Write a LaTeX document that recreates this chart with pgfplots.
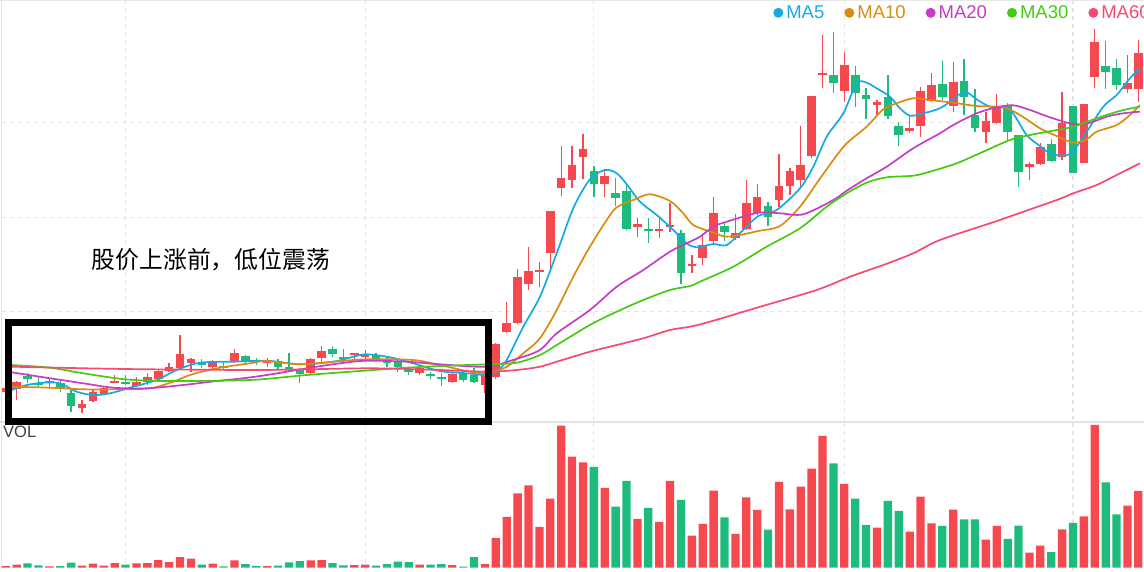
\documentclass[border=0pt]{standalone}
\usepackage{pgfplots}
\usepackage{pgfplotstable}
\pgfplotsset{compat=1.18}
\usepackage{fontspec}
\setmainfont{Liberation Sans}
\newfontfamily\cjk{Noto Sans CJK SC}
\definecolor{upred}{HTML}{F5484F}
\definecolor{dngreen}{HTML}{1DBC7C}
\definecolor{ma5}{HTML}{16A9E6}
\definecolor{ma10}{HTML}{DC8A10}
\definecolor{ma20}{HTML}{C63CC8}
\definecolor{ma30}{HTML}{44CC12}
\definecolor{ma60}{HTML}{F54A72}
\definecolor{gridc}{HTML}{E4E4E4}

% candle values are in chart rows (smaller = higher price); v = volume
\pgfplotstableread{
i o h l c v
0 392 386 395 388 1.5
1 389.3 381 400 381.7 2.8
4 382.7 378 386.7 381 1.2
7 407.7 400 413.3 404 1.8
8 401 389.3 402.3 391.7 3.8
9 394 386 395 388.3 1.8
10 382.7 375 383.3 381 4.5
12 385.7 377.3 386.7 381.7 4.2
13 382.3 373.3 385 377.3 4.5
14 379 369.3 380 370.7 7.5
15 370.7 363.3 371.7 366.7 5.5
16 368.3 335 370 354.3 10.5
17 363.3 358.3 371.7 359 8.8
19 367.3 360 370 361.7 3.8
21 361.7 349.3 363.3 353.3 7.2
24 363 358.3 366.7 361.3 1.5
28 372.7 357.7 375 359.3 7.2
29 358.3 345.7 361.7 351 7.5
32 355 353 359.3 353.3 2.5
33 356.3 350 359 354.7 2.8
38 372.7 366.7 375 367.7 2.8
41 381.7 370 383.3 374 2.5
44 385 370 393 373 3.5
45 376.7 343 379 344 29.5
46 331.7 301.7 333.3 322.7 50.5
47 322.7 269.3 324 276.7 74.2
48 284 246.7 290 271 82.2
49 271.7 261.7 286.7 270 40.5
50 253.3 211 271.7 211 68.8
51 187.7 146 196 178.3 141.8
52 180 146 187.7 165 110.8
53 156.7 134.3 179.3 149 105.2
55 184.3 169.3 196.7 176 79.5
58 227.3 217.7 236.7 224.3 48.5
60 230.7 217.7 238.3 229 45.5
61 226.7 202.7 231.7 225.2 86.5
63 265.7 255 273.3 264.2 31.8
64 258 235 264.5 245 43.5
65 241 196.7 242.7 212.7 76.8
67 238.3 214 240 233.3 33.5
68 229 180 230 202.7 70.2
69 212.7 184 215 196.7 57.5
71 200 154 206.7 186 85.5
72 186 167.7 195 171 58.2
73 180 125.7 186.7 165 80.8
74 156 96 158.3 96 98.8
75 74.3 35 88.3 72.7 131.5
77 90.7 51.7 101.7 65 83.5
80 105.3 100 115 101.7 39.8
83 130.7 116 132.7 128.3 35.8
84 125.7 86.7 136.7 91 70.8
85 100.7 73 101.7 85 44.2
87 106 61.7 111.7 82.3 57.8
90 131.7 111.7 143.3 120.7 27.8
91 123.3 94 124 108.3 41.5
94 166.7 161.7 180 164.3 14.8
95 164 143.3 165 146.7 21.8
97 157.3 91.7 160 123.3 38.2
99 162.7 104 163 104 51.2
100 76.7 29.3 88.3 41.7 142.5
103 89.3 55 92.7 83.3 61.8
104 89.3 40 101.7 52.7 76.5
}\upT

\pgfplotstableread{
i o h l c v
2 376 373.3 383.3 378.7 4.2
3 383 377 386.7 385 2.2
5 383.3 381 391.7 388.3 1.5
6 392.7 390 411.7 406 4.8
11 382 375 385 383.5 2.8
18 363.2 359.3 368.3 364.7 2.8
20 365.7 361.7 369.3 367.3 1.2
22 356 355 363.3 361.7 3.5
23 360 357.7 365 361.7 1.5
25 361 359.3 369.3 367.3 1.8
26 366.7 353.3 371.7 369.3 5.2
27 370 368.3 382.7 374.3 6.5
30 349.3 346 356.7 354.3 4.5
31 356.7 349 361.7 359 2.2
34 355 353 361 359 1.8
35 360 357.3 366.7 362.7 3.5
36 361.7 359.3 371.7 367.3 5.8
37 369.3 366.7 375 371.7 5.5
39 374 371.7 379.3 376 2.8
40 377.3 373.3 386 379 3.5
42 373.3 371.7 381.7 380 0.8
43 375 367.7 383.3 381.7 10.5
54 171 166 196.7 184.3 100.5
56 192.7 178.3 206 198.3 60.8
57 191 184.3 230 229.3 86.5
59 229 217.7 243.3 230.7 59.5
62 233.3 230 284 273.3 67.5
66 226 221.7 240.7 232 50.2
70 206 201.7 226 216.7 37.8
76 75 31.7 92.7 82.7 104.2
78 75 66 107.3 93.3 68.8
79 95 88.3 119 99 42.5
81 96.7 75 119 115.7 66.5
82 126 121.7 146 135 56.5
86 84 60.7 100 97.3 41.5
88 80.7 59.3 115 96.7 48.2
89 115 89.3 131.7 128.3 48.2
92 106 103.3 140 131.7 28.5
93 135 135 187.3 171.7 41.8
96 144 139.3 161.7 160.7 15.5
98 106 106 173.3 173.3 44.5
101 66 40.7 89.3 71.7 85.2
102 68.3 59.3 90 85 53.2
}\dnT

\begin{document}
\begin{tikzpicture}
\path[use as bounding box] (0pt,0pt) rectangle (1144pt,571pt);
\clip (0pt,0pt) rectangle (1144pt,571pt);

% ---------- price panel ----------
\begin{axis}[
  at={(2pt,149pt)}, anchor=south west,
  scale only axis, width=1142pt, height=422pt,
  xmin=-0.349, xmax=104.52, ymin=0, ymax=422, y dir=reverse,
  axis line style={draw=none}, tick style={draw=none},
  xtick={11,33,54,77,98}, ytick={122.7,217.3,311.7},
  xticklabels={}, yticklabels={},
  grid=major,
  major grid style={gridc, line width=1.2pt, dash pattern=on 4pt off 4pt},
  legend columns=-1,
  legend image code/.code={\fill[draw=none] (5pt,0pt) circle (5pt);},
  legend style={at={(axis cs:70.48,12.8)}, anchor=west, draw=none, fill=none,
    inner sep=0pt, outer sep=0pt,
    font=\fontsize{18.5}{22}\selectfont,
    nodes={inner sep=3pt},
    /tikz/every even column/.append style={column sep=17pt}},
]
% wicks
\addplot[forget plot, draw=none, mark=none,
  error bars/.cd, y dir=both, y explicit, error mark=none,
  error bar style={draw=upred, line width=1.3pt}]
  table[x=i, y expr={(\thisrow{h}+\thisrow{l})/2}, y error expr={(\thisrow{l}-\thisrow{h})/2}] {\upT};
\addplot[forget plot, draw=none, mark=none,
  error bars/.cd, y dir=both, y explicit, error mark=none,
  error bar style={draw=dngreen, line width=1.3pt}]
  table[x=i, y expr={(\thisrow{h}+\thisrow{l})/2}, y error expr={(\thisrow{l}-\thisrow{h})/2}] {\dnT};
% bodies
\addplot[forget plot, draw=none, mark=none,
  error bars/.cd, y dir=both, y explicit, error mark=none,
  error bar style={draw=upred, line width=8.6pt}]
  table[x=i, y expr={(\thisrow{o}+\thisrow{c})/2}, y error expr={abs(\thisrow{o}-\thisrow{c})/2}] {\upT};
\addplot[forget plot, draw=none, mark=none,
  error bars/.cd, y dir=both, y explicit, error mark=none,
  error bar style={draw=dngreen, line width=8.6pt}]
  table[x=i, y expr={(\thisrow{o}+\thisrow{c})/2}, y error expr={abs(\thisrow{o}-\thisrow{c})/2}] {\dnT};

% moving averages
\addplot[ma5, line width=1.7pt, smooth] coordinates {
(0.54,390) (1.92,385) (3.44,382.7) (4.98,383.3) (6.51,391.7) (8.04,395) (9.57,393.3) (11.71,386.7) (13.86,380) (15.69,370) (17.83,362.7) (20.89,361.7) (23.96,360.7) (27.02,364.3) (30.07,361.7) (31.91,356.7) (33.14,354.3) (35.28,357.3) (37.42,363.3) (39.87,371) (42.32,373.3) (44.46,375) (45.38,368.3) (46.0,360) (47.52,326.7) (49.05,296.7) (50.59,253.3) (52.11,208.3) (53.64,179.3) (55.03,170) (56.1,173.3) (57.02,184.3) (58.24,201.7) (59.77,215) (61.3,230) (62.52,243.3) (63.44,247.3) (64.97,244) (66.2,245) (67.72,230) (69.1,216) (70.79,210) (72.93,188.3) (74.15,166.7) (75.38,136.7) (76.91,113.3) (78.13,83.3) (79.05,82.7) (79.97,88.3) (81.19,96.7) (82.11,108.3) (83.03,115.7) (84.25,113.3) (85.78,108.3) (87.01,99.3) (88.08,91.7) (89.15,99.3) (90.37,106.7) (92.21,110) (93.74,135) (94.97,146) (96.04,154) (97.72,154) (99.26,131.7) (100.78,106.7) (102.01,95) (103.23,78.3) (104.15,68.3)
};
\addlegendentry{\textcolor{ma5}{MA5}}
\addplot[ma10, line width=1.7pt, smooth] coordinates {
(0.54,386.7) (4.06,387.7) (7.12,389.3) (10.18,389.3) (13.24,388.3) (15.38,381.7) (16.91,375) (19.37,368.3) (22.42,363.3) (23.96,361) (27.02,364.3) (30.07,361.7) (33.14,359.3) (37.42,360) (39.87,365) (42.32,371) (44.15,373.3) (46.0,366.7) (47.52,353.3) (49.05,338.3) (50.59,310) (52.11,276.7) (53.64,246.7) (55.18,220) (56.1,207.3) (57.62,200) (59.15,194.3) (60.99,201) (62.21,213.3) (63.13,225) (64.97,232.7) (66.2,236.7) (67.72,234.3) (69.1,231) (71.09,226) (72.93,206.7) (74.46,183.3) (75.99,160) (77.22,143.3) (79.05,126.7) (80.58,109.3) (81.81,103.3) (83.33,98.3) (84.86,100) (87.01,102.7) (89.15,106) (91.6,107.3) (93.13,115) (94.97,128.3) (96.5,136) (98.03,142.7) (99.26,139.3) (100.17,131.7) (102.01,125) (103.23,115) (104.15,105)
};
\addlegendentry{\textcolor{ma10}{MA10}}
\addplot[ma20, line width=1.7pt, smooth] coordinates {
(0.54,372.3) (4.06,378.3) (7.12,383.3) (9.87,387.7) (12.94,388.3) (16.3,385) (19.37,381) (22.0,378) (24.56,374) (27.63,368.3) (30.69,363.3) (33.14,360.7) (36.81,361.7) (39.87,364.3) (44.15,366.7) (46.76,359.3) (49.05,350) (50.59,333.3) (53.64,310) (56.1,286.7) (58.54,270) (60.99,251.7) (62.83,241.7) (63.75,236.7) (64.97,226.7) (66.2,221.7) (69.1,212.7) (71.09,213.3) (73.23,214.3) (75.99,200) (77.22,190.7) (79.05,178.3) (80.89,166.7) (83.33,148.3) (85.78,133.3) (87.01,125) (89.15,113.3) (90.99,107.3) (92.52,105.3) (94.05,110) (95.88,117.3) (98.03,124) (99.56,122.7) (101.09,116.7) (102.62,113.3) (104.15,111.7)
};
\addlegendentry{\textcolor{ma20}{MA20}}
\addplot[ma30, line width=1.7pt, smooth] coordinates {
(0.54,365) (4.06,367.7) (7.12,373.3) (10.95,379.3) (14.77,381) (22.42,380) (27.63,375) (33.75,370) (36.81,367.7) (39.87,366) (44.15,364.3) (46.91,362.7) (49.05,355) (50.59,345) (53.64,325) (56.1,311.7) (58.54,300) (60.99,290) (62.83,286) (63.75,281.7) (66.8,266.7) (69.87,246.7) (72.93,228.3) (75.38,206.7) (77.22,193.3) (79.05,182.7) (80.89,177.3) (83.33,175.7) (84.86,171.7) (87.32,163.3) (89.76,151.7) (92.21,140) (94.05,135) (96.5,130) (98.03,126.7) (99.56,120.7) (101.09,115) (102.62,110) (104.15,106.7)
};
\addlegendentry{\textcolor{ma30}{MA30}}
\addplot[ma60, line width=1.7pt, smooth] coordinates {
(0.54,366.7) (10.95,369) (22.42,370) (27.63,369.3) (33.75,368.3) (39.87,370) (44.15,371.7) (46.91,370) (49.05,366.7) (50.59,361.7) (53.64,351.7) (56.1,345) (58.54,338.3) (60.99,330) (62.83,326.7) (64.66,321.7) (69.5,306) (74.46,290) (77.52,276.7) (80.58,265) (83.33,253.3) (85.78,240) (91,221) (96.5,200) (98.03,193.3) (100.17,185) (102.01,175) (104.15,163.3)
};
\addlegendentry{\textcolor{ma60}{MA60}}

\node[font=\cjk\fontsize{23.8}{28}\selectfont, text=black, inner sep=0pt] at (axis cs:18.84,260) {股价上涨前，低位震荡};
\end{axis}

% ---------- volume panel ----------
\begin{axis}[
  at={(2pt,0pt)}, anchor=south west,
  scale only axis, width=1142pt, height=149pt,
  xmin=-0.349, xmax=104.52, ymin=-3.5, ymax=145.5,
  axis line style={draw=none}, tick style={draw=none},
  xtick={11,33,54,77,98}, ytick=\empty,
  xticklabels={},
  xmajorgrids,
  major grid style={gridc, line width=1.2pt, dash pattern=on 4pt off 4pt},
]
\addplot[ybar, bar width=8.3pt, bar shift=0pt, fill=upred, draw=none] table[x=i, y=v] {\upT};
\addplot[ybar, bar width=8.3pt, bar shift=0pt, fill=dngreen, draw=none] table[x=i, y=v] {\dnT};
\end{axis}

% panel frame lines
\draw[gray!22, line width=1.5pt] (1.7pt,0pt) -- (1.7pt,571pt);
\draw[gray!18, line width=1.2pt] (0pt,570.4pt) -- (1144pt,570.4pt);
\draw[gray!22, line width=1.5pt] (0pt,149pt) -- (1144pt,149pt);

\node[anchor=base west, font=\fontsize{16.5}{20}\selectfont, text=black!75, inner sep=0pt] at (3pt,133pt) {VOL};

% annotation box
\draw[black, line width=7pt] (8.6pt,248.3pt) rectangle (488.5pt,149pt);
\end{tikzpicture}
\end{document}
